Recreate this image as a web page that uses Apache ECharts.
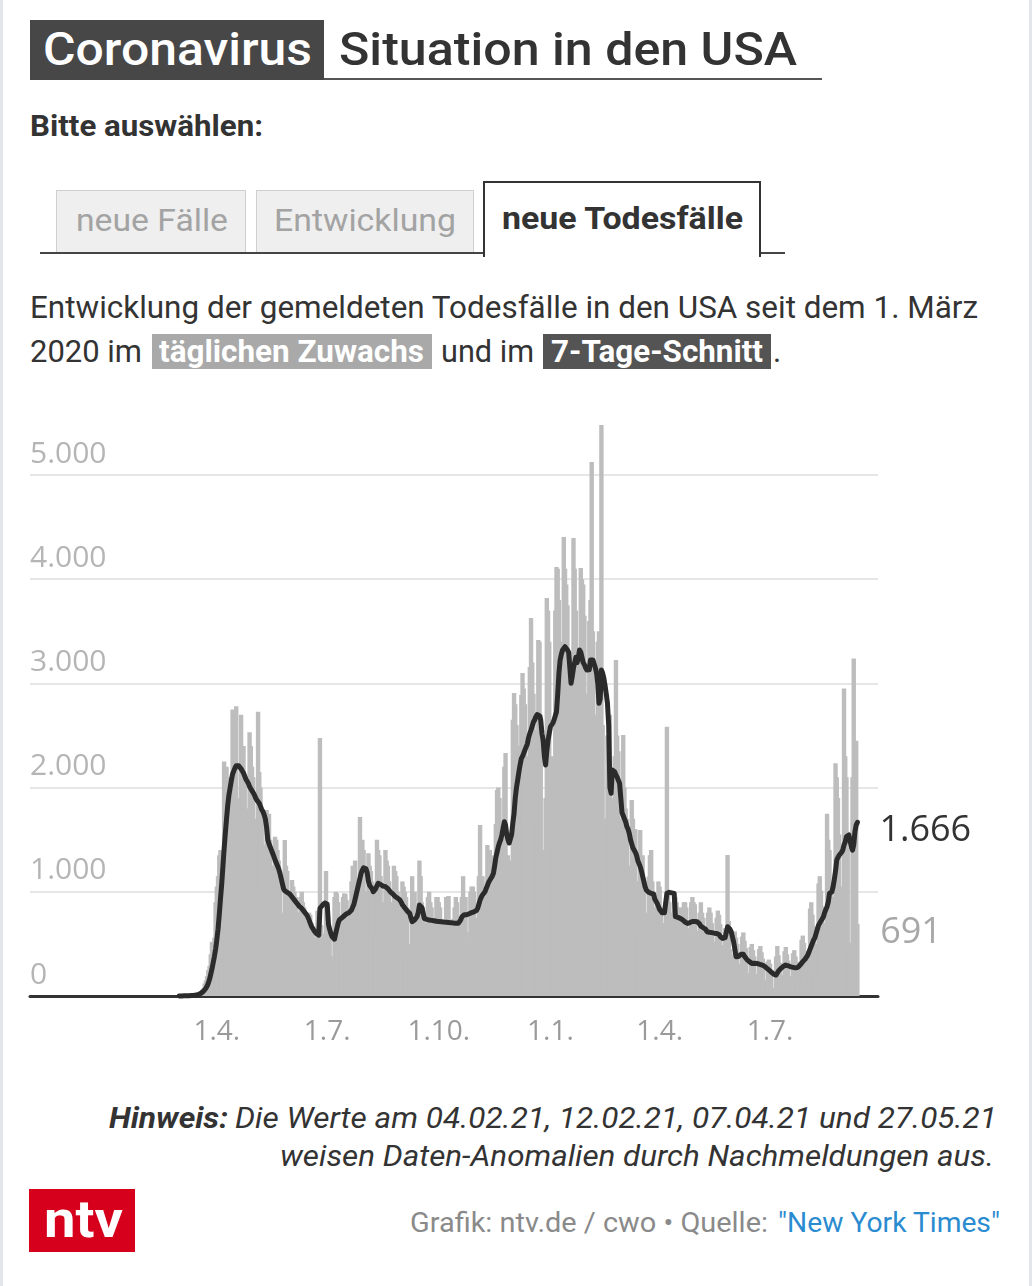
<!DOCTYPE html>
<html lang="de">
<head>
<meta charset="utf-8">
<title>Coronavirus – Situation in den USA</title>
<script src="https://cdn.jsdelivr.net/npm/echarts@6/dist/echarts.min.js"></script>
<style>
  html, body { margin: 0; padding: 0; background: #fff; }
  body { width: 1032px; height: 1286px; position: relative; overflow: hidden; font-family: Roboto, "Noto Sans", sans-serif; }
  .edge { position: absolute; top: 0; width: 3px; height: 1286px; background: #e3e7eb; }
  .abs { position: absolute; }
  .txt { position: absolute; white-space: nowrap; transform-origin: left center; }
  #chart { position: absolute; left: 0; top: 380px; width: 1032px; height: 700px; }
</style>
</head>
<body>
<div class="edge" style="left:0"></div>
<div class="edge" style="right:0"></div>

<!-- title -->
<div class="abs" style="left:30px;top:20px;width:294px;height:60px;background:#474747"></div>
<div class="abs" style="left:324px;top:78px;width:498px;height:2px;background:#555"></div>

<!-- tabs -->
<div class="abs" style="left:40px;top:252px;width:745px;height:2px;background:#444"></div>
<div class="abs" style="left:56px;top:190px;width:188px;height:61px;background:#efefef;border:1px solid #cfcfcf;border-bottom:none"></div>
<div class="abs" style="left:256px;top:190px;width:216px;height:61px;background:#efefef;border:1px solid #cfcfcf;border-bottom:none"></div>
<div class="abs" style="left:483px;top:181px;width:274px;height:74px;background:#fff;border:2px solid #333;border-bottom:none"></div>

<!-- highlights -->
<div class="abs" style="left:152px;top:334px;width:280px;height:35px;background:#a9a9a9"></div>
<div class="abs" style="left:543px;top:334px;width:228px;height:35px;background:#545454"></div>

<!-- logo -->
<div class="abs" style="left:29px;top:1189px;width:106px;height:63px;background:#d6001c"></div>

<div id="chart"></div>
<div id="texts"></div>

<script>
// ---------------- DATA ----------------
// Daily reported deaths in the USA, starting 1 March 2020 (one value per day)
const startDate = '2020-03-01';
const daily2020 = [
  1, 5, 1, 4, 1, 2, 2,
  4, 5, 6, 8, 8, 12, 10,
  12, 21, 25, 30, 45, 60, 75,
  120, 150, 190, 250, 290, 400, 520,
  450, 560, 900, 1050, 1150, 1350, 1400,
  1250, 1300, 2250, 2150, 2200, 2100, 2000,
  1600, 1700, 2750, 2600, 2500, 2780, 1900,
  1600, 1800, 2700, 2300, 2400, 2100, 1800,
  1350, 1400, 2530, 2400, 2200, 2100, 1700,
  1200, 1350, 2729, 2150, 2000, 1700, 1450,
  1000, 1050, 1785, 1700, 1750, 1500, 1250,
  850, 900, 1529, 1500, 1400, 1300, 1100,
  650, 550, 800, 1497, 1250, 1200, 950,
  620, 700, 1113, 1050, 1000, 950, 800,
  550, 600, 950, 1000, 900, 850, 720,
  420, 450, 800, 780, 700, 650, 560,
  330, 420, 820, 780, 2476, 680, 600,
  370, 420, 1200, 700, 680, 560, 300,
  250, 380, 950, 1000, 985, 900, 750,
  450, 420, 950, 985, 980, 920, 830,
  500, 520, 1100, 1250, 1150, 1300, 1050,
  800, 900, 1718, 1450, 1500, 1400, 1000,
  500, 550, 1370, 1250, 1200, 1100, 1050,
  550, 600, 1500, 1400, 1350, 1150, 900,
  500, 550, 1400, 1300, 1250, 1100, 900,
  450, 500, 1250, 1200, 1150, 1000, 950,
  420, 450, 1100, 1050, 1000, 950, 850,
  400, 350, 500, 1150, 950, 1000, 800,
  380, 420, 1300, 1150, 900, 850, 700,
  330, 380, 950, 1000, 900, 850, 700,
  300, 350, 950, 950, 900, 850, 700,
  330, 370, 700, 950, 950, 960, 690,
  350, 350, 740, 850, 950, 900, 740,
  400, 450, 950, 1150, 950, 950, 610,
  350, 450, 1000, 1050, 1050, 1000, 750,
  430, 560, 1150, 1640, 1100, 1150, 950,
  480, 650, 1450, 1400, 1400, 1350, 1250,
  650, 900, 1650, 1977, 2000, 1900, 1500,
  900, 1000, 2200, 2332, 1250, 1350, 1150,
  850, 1300, 2650, 2908, 2800, 2600, 2400,
  1150, 1450, 2889, 3100, 2950, 2800, 2300,
  1450, 1700, 3157, 3627, 3200, 2900, 2550,
  1650, 1900, 3417, 3400, 2700, 1300, 1400,
  1350, 1900, 3820, 3700, 3400
];
const daily2021 = [
  1900, 2300,
  1400, 2000, 3700, 4117, 4100, 3800, 3400,
  1800, 2050, 4405, 4100, 3950, 3750, 3200,
  1700, 1500, 3300, 4395, 4100, 3700, 3300,
  1850, 2100, 4107, 4000, 3950, 3650, 2900,
  1850, 1950, 3600, 3800, 5125, 3500, 2700,
  1350, 1500, 3400, 3500, 3150, 5480, 2600,
  1100, 1000, 1700, 2500, 2500, 2700, 1900,
  1300, 1400, 2300, 3224, 2500, 2350, 1700,
  1150, 1300, 2505, 2000, 1800, 1700, 1250,
  700, 900, 1881, 1700, 1600, 1600, 1100,
  600, 700, 1593, 1300, 1350, 1000, 800,
  450, 600, 1145, 1350, 1400, 1100, 850,
  400, 550, 950, 1100, 1050, 850, 700,
  250, 500, 900, 2585, 1000, 900, 800,
  330, 450, 950, 950, 900, 850, 850,
  350, 400, 850, 900, 900, 850, 650,
  300, 450, 900, 950, 900, 880, 625,
  300, 400, 800, 900, 800, 750, 600,
  250, 350, 800, 850, 800, 700, 520,
  250, 350, 750, 820, 780, 690, 490,
  220, 300, 650, 650, 1353, 720, 450,
  120, 90, 400, 620, 560, 500, 310,
  110, 270, 570, 610, 530, 460, 110,
  95, 220, 470, 500, 440, 380, 100,
  90, 210, 450, 480, 420, 360, 90,
  70, 150, 330, 350, 310, 250, 80,
  40, 60, 380, 480, 390, 320, 80,
  90, 200, 430, 470, 400, 340, 100,
  80, 190, 410, 440, 380, 330, 95,
  100, 250, 540, 580, 510, 430, 117,
  170, 390, 840, 900, 780, 670, 170,
  220, 500, 1080, 1150, 1010, 860, 220,
  300, 700, 1750, 1500, 1400, 1050, 300,
  400, 950, 2233, 2100, 1900, 1550, 387,
  450, 1050, 2950, 2300, 2100, 1420, 510,
  460, 300, 2100, 3240, 2425, 2450, 691
];
// 7-day average of reported deaths (one value per day, same dates)
const avg2020 = [
  0, 1, 1, 2, 2, 2, 2,
  3, 3, 4, 5, 5, 7, 8,
  10, 13, 16, 20, 26, 34, 45,
  60, 75, 95, 125, 160, 210, 260,
  320, 380, 450, 540, 640, 780, 930,
  1070, 1240, 1410, 1560, 1700, 1830, 1930,
  2000, 2070, 2130, 2160, 2190, 2210, 2215,
  2210, 2200, 2180, 2160, 2140, 2110, 2080,
  2060, 2040, 2010, 1990, 1970, 1950, 1930,
  1900, 1880, 1870, 1850, 1820, 1790, 1770,
  1740, 1700, 1620, 1500, 1460, 1430, 1400,
  1370, 1340, 1305, 1290, 1250, 1220, 1180,
  1130, 1080, 1030, 1010, 1000, 995, 985,
  980, 970, 950, 940, 920, 905, 890,
  880, 860, 850, 840, 825, 810, 800,
  780, 760, 730, 700, 670, 650, 630,
  615, 600, 590, 585, 842, 860, 870,
  880, 893, 890, 880, 690, 640, 600,
  570, 557, 545, 600, 650, 700, 730,
  740, 750, 760, 770, 780, 790, 790,
  800, 810, 825, 840, 880, 930, 980,
  1030, 1081, 1130, 1180, 1210, 1230, 1241,
  1220, 1180, 1100, 1060, 1049, 1030, 1001,
  1010, 1030, 1060, 1081, 1075, 1070, 1060,
  1055, 1050, 1049, 1040, 1030, 1015, 1000,
  990, 980, 965, 955, 945, 940, 930,
  920, 900, 875, 860, 845, 830, 815,
  805, 793, 750, 713, 720, 730, 740,
  760, 800, 873, 870, 850, 800, 745,
  740, 735, 735, 730, 728, 726, 725,
  722, 720, 718, 716, 714, 713, 713,
  712, 710, 709, 708, 707, 706, 705,
  704, 702, 700, 699, 698, 697, 697,
  710, 730, 760, 777, 780, 782, 780,
  785, 790, 795, 800, 805, 808, 810,
  820, 841, 880, 920, 950, 970, 985,
  1000, 1030, 1060, 1090, 1110, 1130, 1150,
  1177, 1250, 1330, 1380, 1433, 1470, 1500,
  1550, 1610, 1673, 1640, 1550, 1500, 1468,
  1480, 1550, 1660, 1750, 1900, 2000, 2073,
  2150, 2220, 2280, 2300, 2330, 2361, 2380,
  2420, 2480, 2520, 2553, 2590, 2630, 2650,
  2680, 2700, 2713, 2690, 2650, 2521, 2450,
  2300, 2217, 2350, 2450, 2520
];
const avg2021 = [
  2584, 2600,
  2620, 2650, 2690, 2728, 2900, 3100, 3224,
  3280, 3321, 3340, 3352, 3340, 3321, 3300,
  3150, 3001, 3070, 3150, 3200, 3250, 3200,
  3250, 3321, 3300, 3250, 3200, 3180, 3150,
  3129, 3120, 3130, 3224, 3230, 3224, 3224,
  3150, 3100, 3000, 2809, 2850, 3129, 3100,
  3050, 2980, 2900, 2809, 2600, 2000, 1945,
  2169, 2160, 2150, 2120, 2100, 2070, 2041,
  1900, 1760, 1730, 1700, 1670, 1625, 1600,
  1560, 1500, 1460, 1420, 1401, 1380, 1350,
  1300, 1270, 1241, 1200, 1150, 1100, 1050,
  1017, 1000, 995, 990, 985, 985, 980,
  930, 910, 889, 860, 830, 815, 800,
  800, 800, 800, 985, 990, 995, 990,
  990, 985, 985, 761, 755, 755, 750,
  745, 740, 730, 720, 710, 700, 697,
  700, 705, 710, 715, 715, 715, 713,
  713, 700, 690, 670, 660, 655, 650,
  640, 617, 615, 612, 610, 608, 605,
  603, 601, 600, 601, 590, 570, 553,
  553, 555, 560, 560, 665, 650, 640,
  617, 600, 520, 450, 377, 375, 380,
  390, 400, 409, 400, 380, 365, 350,
  340, 330, 313, 313, 315, 315, 314,
  313, 310, 305, 300, 298, 295, 290,
  280, 270, 260, 250, 240, 230, 220,
  210, 205, 201, 215, 240, 255, 265,
  275, 285, 290, 297, 295, 290, 285,
  280, 278, 275, 272, 270, 270, 275,
  290, 300, 315, 330, 345, 355, 361,
  390, 420, 450, 480, 510, 540, 560,
  601, 640, 680, 700, 720, 740, 760,
  800, 830, 857, 900, 985, 1000, 1000,
  1050, 1120, 1200, 1305, 1330, 1350, 1360,
  1380, 1401, 1450, 1480, 1529, 1540, 1545,
  1561, 1433, 1400, 1450, 1577, 1640, 1666
];
// x-axis tick dates and their labels
const tickDates = ['2020-04-01', '2020-07-01', '2020-10-01', '2021-01-01', '2021-04-01', '2021-07-01'];
const tickLabels = ['1.4.', '1.7.', '1.10.', '1.1.', '1.4.', '1.7.'];

// ---------------- HELPERS ----------------
const DAY = 86400000;
const dayIndex = d => Math.round((Date.parse(d + 'T00:00:00Z') - Date.parse(startDate + 'T00:00:00Z')) / DAY);
const fmt = v => String(Math.round(v)).replace(/\B(?=(\d{3})+(?!\d))/g, '.');

const daily = daily2020.concat(daily2021);
const avg = avg2020.concat(avg2021);
const tickIdx = tickDates.map(dayIndex);
const labelByIdx = {};
tickIdx.forEach((d, i) => { labelByIdx[d] = tickLabels[i]; });
const last = daily.length - 1;

const barData = daily.map((v, i) => i === last ? {
  value: [i, v],
  label: {
    show: true, position: [25, 9], align: 'left', verticalAlign: 'middle',
    formatter: p => fmt(p.value[1]),
    fontFamily: 'Open Sans', fontSize: 36, color: '#a8a8a8'
  }
} : [i, v]);
const lineData = avg.map((v, i) => [i, v]);

// ---------------- CHART ----------------
const chart = echarts.init(document.getElementById('chart'), null, { renderer: 'canvas' });
chart.setOption({
  animation: false,
  grid: { left: 30, right: 154, top: 95, bottom: 84, containLabel: false },
  xAxis: {
    type: 'value',
    min: -123, max: 576,
    axisLine: { show: true, onZero: false, lineStyle: { color: '#333', width: 3 } },
    axisTick: { show: false },
    splitLine: { show: false },
    axisLabel: {
      customValues: tickIdx,
      formatter: v => labelByIdx[v] || '',
      fontFamily: 'Open Sans', fontSize: 28, color: '#9a9a9a', margin: 22
    }
  },
  yAxis: {
    type: 'value',
    min: 0, max: 5000, interval: 1000,
    axisLine: { show: false },
    axisTick: { show: false },
    splitLine: { show: true, lineStyle: { color: '#e6e6e6', width: 2 } },
    axisLabel: {
      inside: true, margin: 0,
      formatter: v => fmt(v),
      fontFamily: 'Open Sans', fontSize: 30, color: '#b5b5b5',
      verticalAlign: 'bottom', lineHeight: 30, padding: [0, 0, 6, 0]
    }
  },
  series: [
    {
      name: 'täglicher Zuwachs',
      type: 'bar',
      data: barData,
      barWidth: 4.4,
      clip: false,
      itemStyle: { color: '#bdbdbd' },
      emphasis: { disabled: true },
      z: 2
    },
    {
      name: '7-Tage-Schnitt',
      type: 'line',
      data: lineData,
      showSymbol: false,
      symbol: 'none',
      clip: false,
      lineStyle: { color: '#2b2b2b', width: 5, join: 'round', cap: 'round' },
      endLabel: {
        show: true, distance: 22, offset: [0, 8],
        formatter: p => fmt(p.value[1]),
        fontFamily: 'Open Sans', fontSize: 36, color: '#333'
      },
      emphasis: { disabled: true },
      z: 3
    }
  ]
});

// ---------------- TEXT (HTML) ----------------
const texts = [
  { t: 'Coronavirus', x: 43, w: 269, cy: 49, size: 46, weight: 500, color: '#fff' },
  { t: 'Situation in den USA', x: 339, w: 458, cy: 49, size: 46, weight: 500, color: '#333' },
  { t: 'Bitte auswählen:', x: 30, w: 233, cy: 126, size: 29, weight: 700, color: '#333' },
  { t: 'neue Fälle', x: 76, w: 152, cy: 220, size: 32, weight: 400, color: '#a3a3a3' },
  { t: 'Entwicklung', x: 274, w: 182, cy: 220, size: 32, weight: 400, color: '#a3a3a3' },
  { t: 'neue Todesfälle', x: 502, w: 241, cy: 218, size: 32, weight: 700, color: '#333' },
  { t: 'Entwicklung der gemeldeten Todesfälle in den USA seit dem 1. März', x: 30, w: 948, cy: 307, size: 31, weight: 400, color: '#333' },
  { t: '2020 im', x: 30, w: 112, cy: 351, size: 31, weight: 400, color: '#333' },
  { t: 'täglichen Zuwachs', x: 159, w: 265, cy: 351, size: 31, weight: 700, color: '#fff' },
  { t: 'und im', x: 441, w: 93, cy: 351, size: 31, weight: 400, color: '#333' },
  { t: '7-Tage-Schnitt', x: 551, w: 212, cy: 351, size: 31, weight: 700, color: '#fff' },
  { t: '.', x: 773, w: 0, cy: 351, size: 31, weight: 400, color: '#333' },
  { t: 'Hinweis:', x: 109, w: 119, cy: 1118, size: 29, weight: 700, color: '#333', italic: true },
  { t: 'Die Werte am 04.02.21, 12.02.21, 07.04.21 und 27.05.21', x: 235, w: 762, cy: 1118, size: 29, weight: 400, color: '#333', italic: true },
  { t: 'weisen Daten-Anomalien durch Nachmeldungen aus.', x: 280, w: 714, cy: 1156, size: 29, weight: 400, color: '#333', italic: true },
  { t: 'ntv', x: 44, w: 79, cy: 1219, size: 52, weight: 700, color: '#fff' },
  { t: 'Grafik: ntv.de / cwo • Quelle:', x: 410, w: 358, cy: 1223, size: 27, weight: 400, color: '#8a8a8a' },
  { t: '"New York Times"', x: 778, w: 222, cy: 1223, size: 27, weight: 400, color: '#2a8bd0' }
];
const host = document.getElementById('texts');
const els = texts.map(o => {
  const el = document.createElement('div');
  el.className = 'txt';
  el.textContent = o.t;
  const lh = Math.round(o.size * 1.25);
  el.style.cssText += `left:${o.x}px;top:${o.cy - lh / 2}px;font-size:${o.size}px;line-height:${lh}px;` +
    `font-weight:${o.weight};color:${o.color};font-style:${o.italic ? 'italic' : 'normal'};`;
  host.appendChild(el);
  return [el, o];
});
function fit() {
  els.forEach(([el, o]) => {
    if (!o.w) return;
    el.style.transform = 'none';
    const w = el.getBoundingClientRect().width;
    if (w > 0) el.style.transform = `scaleX(${o.w / w})`;
  });
}
fit();
if (document.fonts && document.fonts.ready) document.fonts.ready.then(fit);
</script>
</body>
</html>
